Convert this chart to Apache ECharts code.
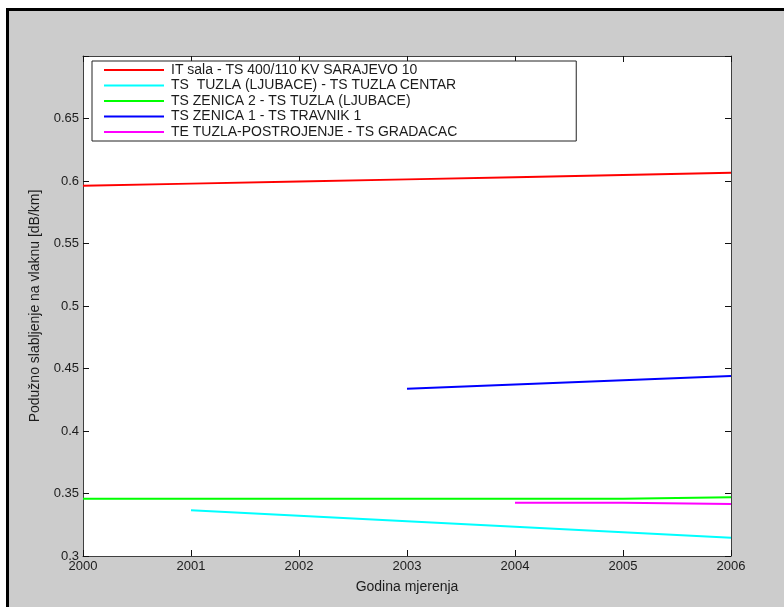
<!DOCTYPE html>
<html>
<head>
<meta charset="utf-8">
<script src="https://cdn.jsdelivr.net/npm/echarts@6/dist/echarts.min.js"></script>
<style>
html,body{margin:0;padding:0;background:#fff;}
#c{width:784px;height:607px;}
</style>
</head>
<body>
<div id="c"></div>
<script>
var seriesNames = [
  'IT sala - TS 400/110 KV SARAJEVO 10',
  'TS  TUZLA (LJUBACE) - TS TUZLA CENTAR',
  'TS ZENICA 2 - TS TUZLA (LJUBACE)',
  'TS ZENICA 1 - TS TRAVNIK 1',
  'TE TUZLA-POSTROJENJE - TS GRADACAC'
];
var seriesColors = ['#ff0000', '#00ffff', '#00ff00', '#0000ff', '#ff00ff'];

var redYears = [2000, 2001, 2002, 2003, 2004, 2005, 2006];
var redValues = [0.5962, 0.5979, 0.5996, 0.6013, 0.6030, 0.6048, 0.6066];

var cyanYears = [2001, 2002, 2003, 2004, 2005, 2006];
var cyanValues = [0.3366, 0.3322, 0.3278, 0.3234, 0.3190, 0.3146];

var greenYears = [2000, 2001, 2002, 2003, 2004, 2005, 2005, 2006];
var greenValues = [0.3458, 0.3458, 0.3458, 0.3458, 0.3458, 0.3458, 0.3470, 0.3470];

var blueYears = [2003, 2004, 2005, 2006];
var blueValues = [0.4338, 0.4372, 0.4406, 0.4440];

var magentaYears = [2004, 2005, 2005, 2006];
var magentaValues = [0.3426, 0.3426, 0.3416, 0.3416];

var xTicks = [2000, 2001, 2002, 2003, 2004, 2005, 2006];
var yTickLabels = ['0.3', '0.35', '0.4', '0.45', '0.5', '0.55', '0.6', '0.65'];

function pairs(xs, ys) {
  return xs.map(function (x, i) { return [x, ys[i]]; });
}
var allYears = [redYears, cyanYears, greenYears, blueYears, magentaYears];
var allValues = [redValues, cyanValues, greenValues, blueValues, magentaValues];

var FONT = 'Liberation Sans, Arial, sans-serif';
var axisColor = '#404040';
var textColor = '#1c1c1c';

var series = seriesNames.map(function (name, i) {
  return {
    name: name,
    type: 'line',
    xAxisIndex: 0,
    yAxisIndex: 0,
    data: pairs(allYears[i], allValues[i]),
    symbol: 'none',
    showSymbol: false,
    lineStyle: { width: 2, color: seriesColors[i] },
    itemStyle: { color: seriesColors[i] },
    animation: false
  };
});

var chart = echarts.init(document.getElementById('c'), null, { renderer: 'canvas' });
chart.setOption({
  backgroundColor: '#cccccc',
  animation: false,
  graphic: [
    { type: 'rect', shape: { x: 0, y: 0, width: 784, height: 8 }, style: { fill: '#ffffff' }, silent: true },
    { type: 'rect', shape: { x: 0, y: 0, width: 6, height: 607 }, style: { fill: '#ffffff' }, silent: true },
    { type: 'rect', shape: { x: 6, y: 8, width: 778, height: 3 }, style: { fill: '#000000' }, silent: true },
    { type: 'rect', shape: { x: 6, y: 8, width: 3, height: 599 }, style: { fill: '#000000' }, silent: true }
  ],
  grid: {
    left: 83, right: 53, top: 56, bottom: 51,
    show: true, backgroundColor: '#ffffff', borderWidth: 0,
    containLabel: false
  },
  legend: {
    orient: 'vertical',
    left: 92,
    top: 61,
    itemWidth: 60,
    itemHeight: 14,
    itemGap: 1.5,
    padding: [2, 119, 2, 11],
    backgroundColor: '#ffffff',
    borderColor: '#222222',
    borderWidth: 1,
    borderRadius: 0,
    data: seriesNames,
    itemStyle: { opacity: 0 },
    lineStyle: { width: 2 },
    textStyle: { fontFamily: FONT, fontSize: 14, lineHeight: 14, color: textColor, padding: [0, 0, 0, 2] }
  },
  xAxis: [
    {
      type: 'value', min: 2000, max: 2006, interval: 1, position: 'bottom',
      name: 'Godina mjerenja', nameLocation: 'middle', nameGap: 24,
      nameTextStyle: { fontFamily: FONT, fontSize: 14, color: textColor },
      axisLine: { show: true, onZero: false, lineStyle: { color: axisColor, width: 1 } },
      axisTick: { show: true, inside: true, length: 6, lineStyle: { color: '#111', width: 1 } },
      axisLabel: { fontFamily: FONT, fontSize: 13, color: textColor, margin: 4,
        formatter: function (v) { return xTicks.indexOf(v) >= 0 ? String(v) : ''; } },
      splitLine: { show: false }
    },
    {
      type: 'value', min: 2000, max: 2006, interval: 1, position: 'top',
      axisLine: { show: true, onZero: false, lineStyle: { color: axisColor, width: 1 } },
      axisTick: { show: true, inside: true, length: 6, lineStyle: { color: '#111', width: 1 } },
      axisLabel: { show: false },
      splitLine: { show: false }
    }
  ],
  yAxis: [
    {
      type: 'value', min: 0.3, max: 0.7, interval: 0.05, position: 'left',
      name: 'Podužno slabljenje na vlaknu [dB/km]', nameLocation: 'middle', nameGap: 41,
      nameTextStyle: { fontFamily: FONT, fontSize: 14, color: textColor },
      axisLine: { show: true, onZero: false, lineStyle: { color: axisColor, width: 1 } },
      axisTick: { show: true, inside: true, length: 6, lineStyle: { color: '#111', width: 1 } },
      axisLabel: { fontFamily: FONT, fontSize: 13, color: textColor, margin: 4,
        formatter: function (v) {
          var s = String(Math.round(v * 100) / 100);
          return yTickLabels.indexOf(s) >= 0 ? s : '';
        } },
      splitLine: { show: false }
    },
    {
      type: 'value', min: 0.3, max: 0.7, interval: 0.05, position: 'right',
      axisLine: { show: true, onZero: false, lineStyle: { color: axisColor, width: 1 } },
      axisTick: { show: true, inside: true, length: 6, lineStyle: { color: '#111', width: 1 } },
      axisLabel: { show: false },
      splitLine: { show: false }
    }
  ],
  series: series
});
</script>
</body>
</html>
